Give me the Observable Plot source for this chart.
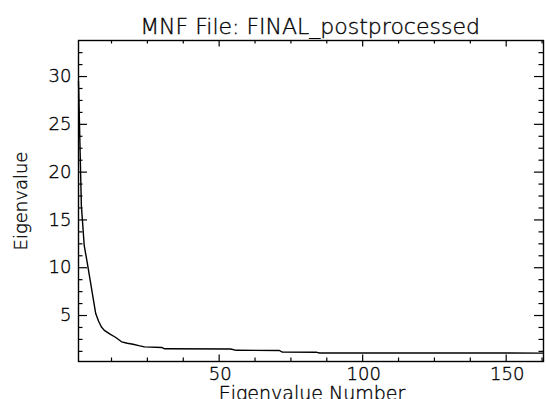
<!DOCTYPE html>
<html>
<head>
<meta charset="utf-8">
<script src="https://cdn.jsdelivr.net/npm/d3@7"></script>
<script src="https://cdn.jsdelivr.net/npm/@observablehq/plot@0.6"></script>
<style>
  html, body { margin: 0; padding: 0; background: #fff; }
  #chart svg text { font-family: "DejaVu Sans", sans-serif; font-weight: 300; fill: #000; stroke: #000; stroke-width: 0.35px; }
  g[aria-label="title"] text { letter-spacing: 2.3px; }
  g[aria-label="xlabel"] text { letter-spacing: 2.8px; }
  g[aria-label="ylabel"] text { letter-spacing: 2.5px; }
  g[aria-label="xticklabels"] text, g[aria-label="yticklabels"] text { letter-spacing: 2.5px; }
</style>
</head>
<body>
<div id="chart"></div>
<script>
// ---- data ----
const titleText = "MNF File: FINAL_postprocessed";
const xLabel = "Eigenvalue Number";
const yLabel = "Eigenvalue";

const eigenNumber = [1, 2, 3, 4, 5, 6, 7, 8, 9, 10, 12, 14, 16, 18, 20, 22, 24, 30, 31, 54, 56, 71, 72, 84, 85, 163];
const eigenvalue  = [29.5, 16.5, 12.3, 10.6, 8.8, 7.0, 5.2, 4.4, 3.8, 3.45, 3.05, 2.7, 2.25, 2.1, 2.0, 1.85, 1.72, 1.66, 1.52, 1.5, 1.36, 1.34, 1.17, 1.15, 1.08, 1.07];

const xTicks = [50, 100, 150];
const xMinorTicks = [12.5, 25, 37.5, 62.5, 75, 87.5, 112.5, 125, 137.5, 162.5];
const yTicks = [5, 10, 15, 20, 25, 30];
const yMinorTicks = [1.25, 2.5, 3.75, 6.25, 7.5, 8.75, 11.25, 12.5, 13.75, 16.25, 17.5, 18.75,
                     21.25, 22.5, 23.75, 26.25, 27.5, 28.75, 31.25, 32.5];
const xDomain = [1, 163];
const yDomain = [0.19, 33.77];

// ---- layout ----
const W = 546, H = 399;
const mL = 78, mR = 3, mT = 40, mB = 38;
const iw = W - mL - mR, ih = H - mT - mB;
const xMajorLen = 6.5, xMinorLen = 3.5, yMajorLen = 9, yMinorLen = 4.5;

const series = eigenNumber.map((n, i) => ({n, v: eigenvalue[i]}));

const chart = Plot.plot({
  width: W,
  height: H,
  marginLeft: mL,
  marginRight: mR,
  marginTop: mT,
  marginBottom: mB,
  style: {background: "#fff", color: "#000", fontSize: "18px"},
  x: {domain: xDomain, axis: null},
  y: {domain: yDomain, axis: null},
  marks: [
    // ticks (inward, mirrored on all four sides)
    Plot.tickX(xTicks, {x: d => d, insetTop: ih - xMajorLen, stroke: "#000", strokeWidth: 1.2}),
    Plot.tickX(xTicks, {x: d => d, insetBottom: ih - xMajorLen, stroke: "#000", strokeWidth: 1.2}),
    Plot.tickX(xMinorTicks, {x: d => d, insetTop: ih - xMinorLen, stroke: "#000", strokeWidth: 1.2}),
    Plot.tickX(xMinorTicks, {x: d => d, insetBottom: ih - xMinorLen, stroke: "#000", strokeWidth: 1.2}),
    Plot.tickY(yTicks, {y: d => d, insetRight: iw - yMajorLen, stroke: "#000", strokeWidth: 1.2}),
    Plot.tickY(yTicks, {y: d => d, insetLeft: iw - yMajorLen, stroke: "#000", strokeWidth: 1.2}),
    Plot.tickY(yMinorTicks, {y: d => d, insetRight: iw - yMinorLen, stroke: "#000", strokeWidth: 1.2}),
    Plot.tickY(yMinorTicks, {y: d => d, insetLeft: iw - yMinorLen, stroke: "#000", strokeWidth: 1.2}),
    // curve
    Plot.line(series, {x: "n", y: "v", stroke: "#000", strokeWidth: 1.4}),
    // frame
    Plot.frame({stroke: "#000", strokeWidth: 1.4}),
    // tick labels
    Plot.text(xTicks, {x: d => d, frameAnchor: "bottom", lineAnchor: "top", textAnchor: "middle", dx: 1, dy: 6, fontSize: 18, text: d => String(d), ariaLabel: "xticklabels"}),
    Plot.text(yTicks, {y: d => d, frameAnchor: "left", textAnchor: "end", lineAnchor: "middle", dx: -7, fontSize: 18, text: d => String(d), ariaLabel: "yticklabels"}),
    // axis labels and title
    Plot.text([xLabel], {frameAnchor: "bottom", lineAnchor: "middle", textAnchor: "middle", dx: 1, dy: 32, fontSize: 19, text: d => d, ariaLabel: "xlabel"}),
    Plot.text([yLabel], {frameAnchor: "left", lineAnchor: "middle", textAnchor: "middle", dx: -57, rotate: -90, fontSize: 18, text: d => d, ariaLabel: "ylabel"}),
    Plot.text([titleText], {frameAnchor: "top", lineAnchor: "middle", textAnchor: "middle", dx: -1, dy: -14, fontSize: 22, text: d => d, ariaLabel: "title"})
  ]
});

document.getElementById("chart").appendChild(chart);
</script>
</body>
</html>
